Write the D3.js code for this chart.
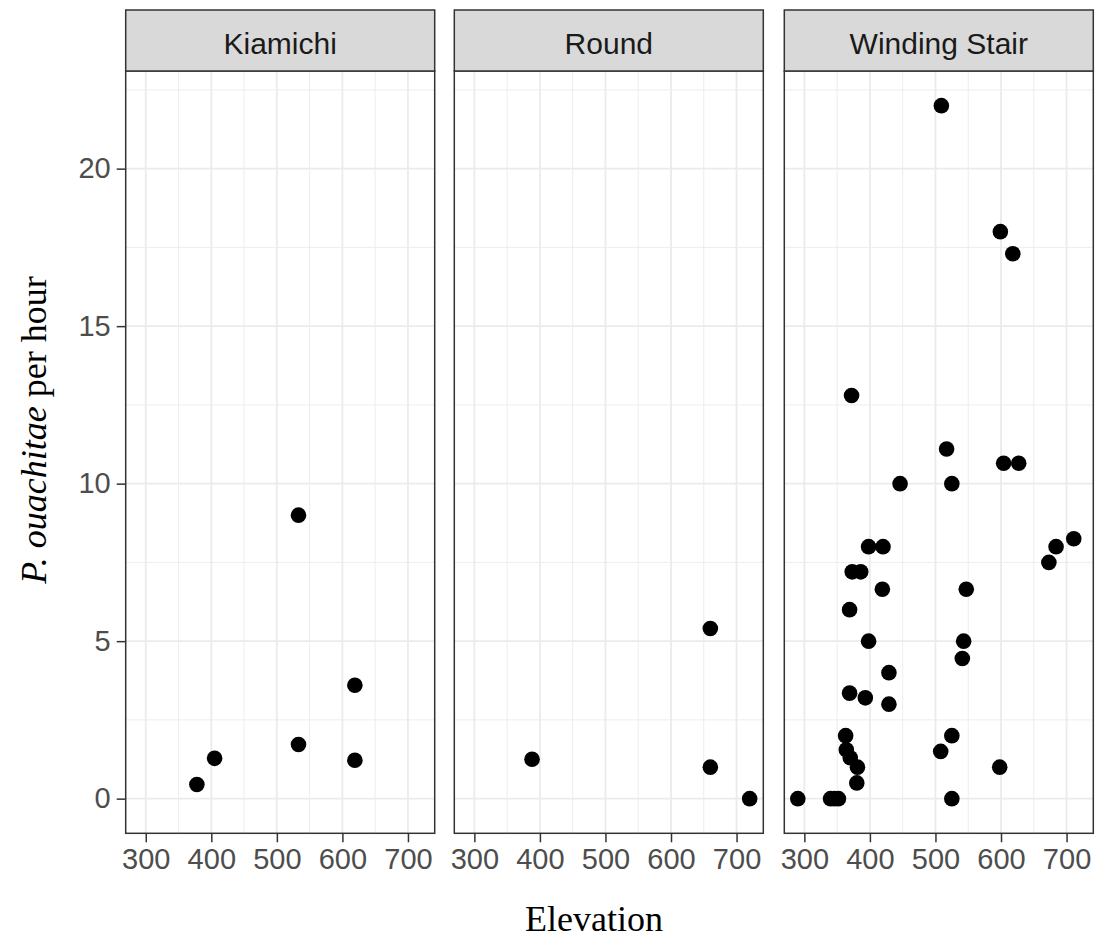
<!DOCTYPE html>
<html><head><meta charset="utf-8">
<script src="https://cdn.jsdelivr.net/npm/d3@7"></script>
<style>html,body{margin:0;padding:0;background:#fff;}</style>
</head><body>
<svg id="chart" width="1099" height="938"></svg>
<script>
// ---- data ----
const sites = ["Kiamichi", "Round", "Winding Stair"];
const xTicks = [300, 400, 500, 600, 700];
const yTicks = [0, 5, 10, 15, 20];
const kiamichiElevation = [378, 405, 533, 533, 619, 619];
const kiamichiRate      = [0.45, 1.28, 9.0, 1.72, 3.6, 1.22];
const roundElevation = [388, 660, 660, 720];
const roundRate      = [1.25, 5.4, 1.0, 0.0];
const windingElevation = [509, 599, 618, 372, 517, 604, 627, 446, 525,
  398, 420, 373, 386, 419, 547, 369, 398, 543, 541, 429, 369, 393, 429,
  363, 525, 364, 508, 370, 381, 598, 380, 290, 340, 346, 352, 525, 673, 684, 711];
const windingRate = [22.0, 18.0, 17.3, 12.8, 11.1, 10.65, 10.65, 10.0, 10.0,
  8.0, 8.0, 7.2, 7.2, 6.65, 6.65, 6.0, 5.0, 5.0, 4.45, 4.0, 3.35, 3.2, 3.0,
  2.0, 2.0, 1.55, 1.5, 1.3, 1.0, 1.0, 0.5, 0.0, 0.0, 0.0, 0.0, 0.0, 7.5, 8.0, 8.25];

const seriesElevation = [kiamichiElevation, roundElevation, windingElevation];
const seriesRate = [kiamichiRate, roundRate, windingRate];

// ---- layout ----
const panelLefts = [125.7, 454.3, 784.3];
const panelW = 309;
const stripTop = 10, panelTop = 71, panelBottom = 833.3;

const svg = d3.select("#chart");
const y = d3.scaleLinear().domain([-1.1, 23.1]).range([panelBottom, panelTop]);
const yMinor = [2.5, 7.5, 12.5, 17.5, 22.5];
const xMinor = [350, 450, 550, 650];

sites.forEach((site, i) => {
  const x0 = panelLefts[i];
  const x = d3.scaleLinear().domain([269.4, 740.8]).range([x0, x0 + panelW]);
  const g = svg.append("g");
  g.append("rect").attr("x", x0).attr("y", panelTop).attr("width", panelW)
    .attr("height", panelBottom - panelTop).attr("fill", "#fff");
  g.selectAll(".ymin").data(yMinor).enter().append("line")
    .attr("x1", x0).attr("x2", x0 + panelW).attr("y1", d => y(d)).attr("y2", d => y(d))
    .attr("stroke", "#ebebeb").attr("stroke-width", 0.9);
  g.selectAll(".xmin").data(xMinor).enter().append("line")
    .attr("y1", panelTop).attr("y2", panelBottom).attr("x1", d => x(d)).attr("x2", d => x(d))
    .attr("stroke", "#ebebeb").attr("stroke-width", 0.9);
  g.selectAll(".ymaj").data(yTicks).enter().append("line")
    .attr("x1", x0).attr("x2", x0 + panelW).attr("y1", d => y(d)).attr("y2", d => y(d))
    .attr("stroke", "#ebebeb").attr("stroke-width", 1.8);
  g.selectAll(".xmaj").data(xTicks).enter().append("line")
    .attr("y1", panelTop).attr("y2", panelBottom).attr("x1", d => x(d)).attr("x2", d => x(d))
    .attr("stroke", "#ebebeb").attr("stroke-width", 1.8);
  const pts = seriesElevation[i].map((e, k) => ({e, r: seriesRate[i][k]}));
  g.selectAll("circle").data(pts).enter().append("circle")
    .attr("cx", d => x(d.e)).attr("cy", d => y(d.r)).attr("r", 7.8).attr("fill", "#000");
  g.append("rect").attr("x", x0).attr("y", panelTop).attr("width", panelW)
    .attr("height", panelBottom - panelTop).attr("fill", "none")
    .attr("stroke", "#333").attr("stroke-width", 1.5);
  g.append("rect").attr("x", x0).attr("y", stripTop).attr("width", panelW)
    .attr("height", panelTop - stripTop).attr("fill", "#d9d9d9")
    .attr("stroke", "#333").attr("stroke-width", 1.5);
  g.append("text").attr("x", x0 + panelW / 2).attr("y", 53.5)
    .attr("text-anchor", "middle").attr("font-family", "Liberation Sans, Arial, sans-serif")
    .attr("font-size", 30).attr("fill", "#1a1a1a").text(site);
  const xAxis = d3.axisBottom(x).tickValues(xTicks).tickSize(9).tickPadding(6);
  const ax = g.append("g").attr("transform", `translate(0,${panelBottom})`).call(xAxis);
  ax.select(".domain").remove();
  ax.selectAll(".tick line").attr("stroke", "#333").attr("stroke-width", 1.5);
  ax.selectAll(".tick text").attr("font-family", "Liberation Sans, Arial, sans-serif")
    .attr("font-size", 29).attr("fill", "#4d4d4d");
  if (i === 0) {
    const yAxis = d3.axisLeft(y).tickValues(yTicks).tickSize(9).tickPadding(6);
    const ay = g.append("g").attr("transform", `translate(${x0},0)`).call(yAxis);
    ay.select(".domain").remove();
    ay.selectAll(".tick line").attr("stroke", "#333").attr("stroke-width", 1.5);
    ay.selectAll(".tick text").attr("font-family", "Liberation Sans, Arial, sans-serif")
      .attr("font-size", 29).attr("fill", "#4d4d4d");
  }
});

svg.append("text").attr("x", 594).attr("y", 931).attr("text-anchor", "middle")
  .attr("font-family", "Liberation Serif, Times New Roman, serif").attr("font-size", 36)
  .attr("fill", "#000").text("Elevation");

const yt = svg.append("text").attr("transform", "translate(46,430) rotate(-90)")
  .attr("text-anchor", "middle")
  .attr("font-family", "Liberation Serif, Times New Roman, serif").attr("font-size", 36)
  .attr("fill", "#000");
yt.append("tspan").attr("font-style", "italic").text("P. ouachitae");
yt.append("tspan").text(" per hour");
</script>
</body></html>
